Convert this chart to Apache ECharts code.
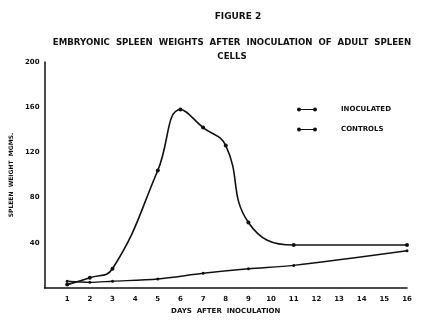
<!DOCTYPE html>
<html>
<head>
<meta charset="utf-8">
<script src="https://cdn.jsdelivr.net/npm/echarts@6/dist/echarts.min.js"></script>
<style>
  html, body { margin: 0; padding: 0; background: #fff; }
  #chart { width: 422px; height: 320px; }
</style>
</head>
<body>
<div id="chart"></div>
<script>
// days after inoculation
const days = [1, 2, 3, 5, 6, 7, 8, 9, 11, 16];
const inoculated = [3, 9, 17, 104, 158, 142, 126, 58, 38, 38];
const controlDays = [1, 2, 3, 5, 7, 9, 11, 16];
const controls = [6, 5, 6, 8, 13, 17, 20, 33];
const yTicks = [40, 80, 120, 160, 200];

const font = 'DejaVu Sans';
const chart = echarts.init(document.getElementById('chart'));

const pairs = (xs, ys) => xs.map((x, i) => [x, ys[i]]);
// legend glyph: short line with a dot at each end
const legendIcon = 'path://M0,3 a3,3 0 1,1 6,0 a3,3 0 1,1 -6,0 Z M3,2.4 L27,2.4 L27,3.6 L3,3.6 Z M24,3 a3,3 0 1,1 6,0 a3,3 0 1,1 -6,0 Z';

chart.setOption({
  animation: false,
  backgroundColor: '#fff',
  title: [
    {
      text: 'FIGURE 2',
      left: 233, top: 7, textAlign: 'center',
      textStyle: { fontFamily: font, fontSize: 9, fontWeight: 'bold', color: '#111' }
    },
    {
      text: 'EMBRYONIC  SPLEEN  WEIGHTS  AFTER  INOCULATION  OF  ADULT  SPLEEN\nCELLS',
      left: 227, top: 31, textAlign: 'center',
      textStyle: { fontFamily: font, fontSize: 8.6, fontWeight: 'bold', color: '#111', lineHeight: 14 }
    }
  ],
  legend: {
    orient: 'vertical',
    left: 292, top: 101,
    itemWidth: 22, itemHeight: 4, itemGap: 13,
    icon: legendIcon,
    itemStyle: { color: '#111', borderWidth: 0 },
    textStyle: { fontFamily: font, fontSize: 7, fontWeight: 'bold', color: '#111', padding: [0, 0, 0, 18] },
    data: ['INOCULATED', 'CONTROLS']
  },
  grid: { left: 39, right: 15, top: 62, bottom: 29 },
  xAxis: {
    type: 'value',
    min: 0, max: 16, interval: 1,
    name: 'DAYS  AFTER  INOCULATION',
    nameLocation: 'middle', nameGap: 20,
    nameTextStyle: { fontFamily: font, fontSize: 7, fontWeight: 'bold', color: '#111' },
    axisLine: { lineStyle: { color: '#111', width: 1.5 } },
    axisTick: { show: false },
    splitLine: { show: false },
    axisLabel: {
      fontFamily: font, fontSize: 7, fontWeight: 'bold', color: '#111', margin: 8,
      formatter: v => (v === 0 ? '' : v)
    }
  },
  yAxis: {
    type: 'value',
    min: 0, max: 200, interval: 40,
    name: 'SPLEEN  WEIGHT  MGMS.',
    nameLocation: 'middle', nameGap: 22,
    nameTextStyle: { fontFamily: font, fontSize: 6, fontWeight: 'bold', color: '#111' },
    axisLine: { show: true, lineStyle: { color: '#111', width: 1.5 } },
    axisTick: { show: false },
    splitLine: { show: false },
    axisLabel: {
      fontFamily: font, fontSize: 7, fontWeight: 'bold', color: '#111', margin: 5,
      formatter: v => (yTicks.includes(v) ? v : '')
    }
  },
  series: [
    {
      name: 'INOCULATED',
      type: 'line',
      smooth: 0.45,
      data: pairs(days, inoculated),
      symbol: 'circle', symbolSize: 4,
      lineStyle: { color: '#111', width: 1.6 },
      itemStyle: { color: '#111' }
    },
    {
      name: 'CONTROLS',
      type: 'line',
      smooth: 0.3,
      data: pairs(controlDays, controls),
      symbol: 'circle', symbolSize: 3,
      lineStyle: { color: '#111', width: 1.4 },
      itemStyle: { color: '#111' }
    }
  ]
});
</script>
</body>
</html>
